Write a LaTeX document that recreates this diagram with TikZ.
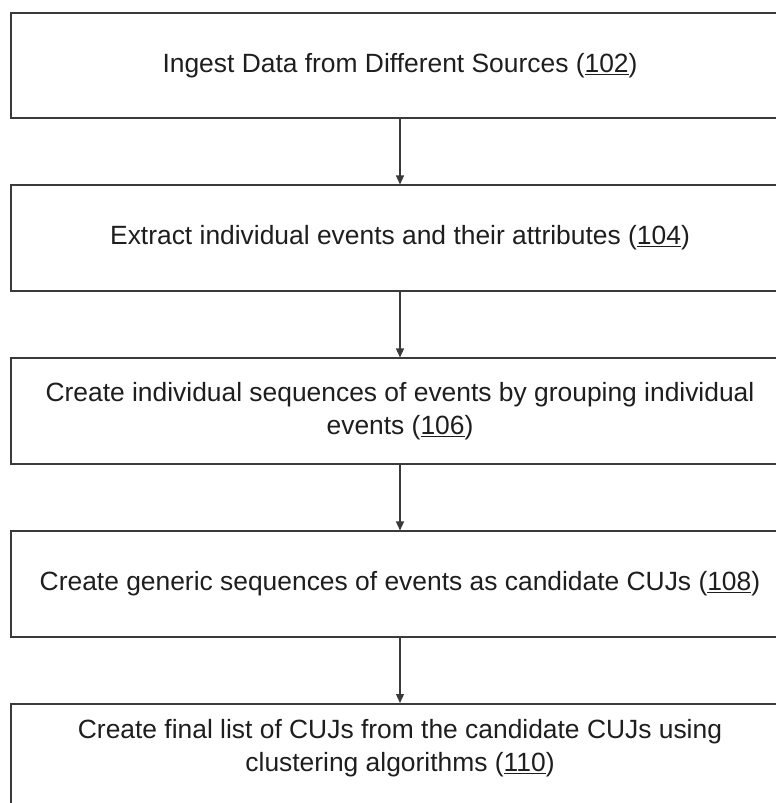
\documentclass[tikz,border=0pt]{standalone}
\usepackage{fontspec}
\setmainfont{Liberation Sans}
\usetikzlibrary{arrows.meta}
\definecolor{linec}{HTML}{3A3A3A}
\definecolor{textc}{HTML}{1E1E1E}
\begin{document}
\begin{tikzpicture}[x=1pt,y=-1pt,
  stepfont/.style={font=\fontsize{26.4}{33}\selectfont, text=textc, align=center},
  stepbox/.style={draw=linec, line width=1.6pt, fill=white, minimum width=778pt,
    minimum height=105.5pt, inner sep=0pt, stepfont},
  flow/.style={draw=linec, line width=1.3pt, -{Triangle[length=9pt,width=8pt]}}]
\useasboundingbox (0,0) rectangle (776,803);
\clip (0,0) rectangle (776,803);
\node[stepbox] (b1) at (400,65.5) {Ingest Data from Different Sources (\underline{102})};
\node[stepbox] (b2) at (400,238) {Extract individual events and their attributes (\underline{104})};
\node[stepbox] (b3) at (400,411) {Create individual sequences of events by grouping individual\\events (\underline{106})};
\node[stepbox] (b4) at (400,584) {Create generic sequences of events as candidate CUJs (\underline{108})};
\node[stepbox, anchor=north, minimum height=120pt] (b5) at (400,703) {};
\node[stepfont, inner sep=0pt] (b5t) at ([yshift=-45pt]b5.north) {Create final list of CUJs from the candidate CUJs using\\clustering algorithms (\underline{110})};
\draw[flow] (b1.south) -- (b2.north);
\draw[flow] (b2.south) -- (b3.north);
\draw[flow] (b3.south) -- (b4.north);
\draw[flow] (b4.south) -- (b5.north);
\end{tikzpicture}
\end{document}
